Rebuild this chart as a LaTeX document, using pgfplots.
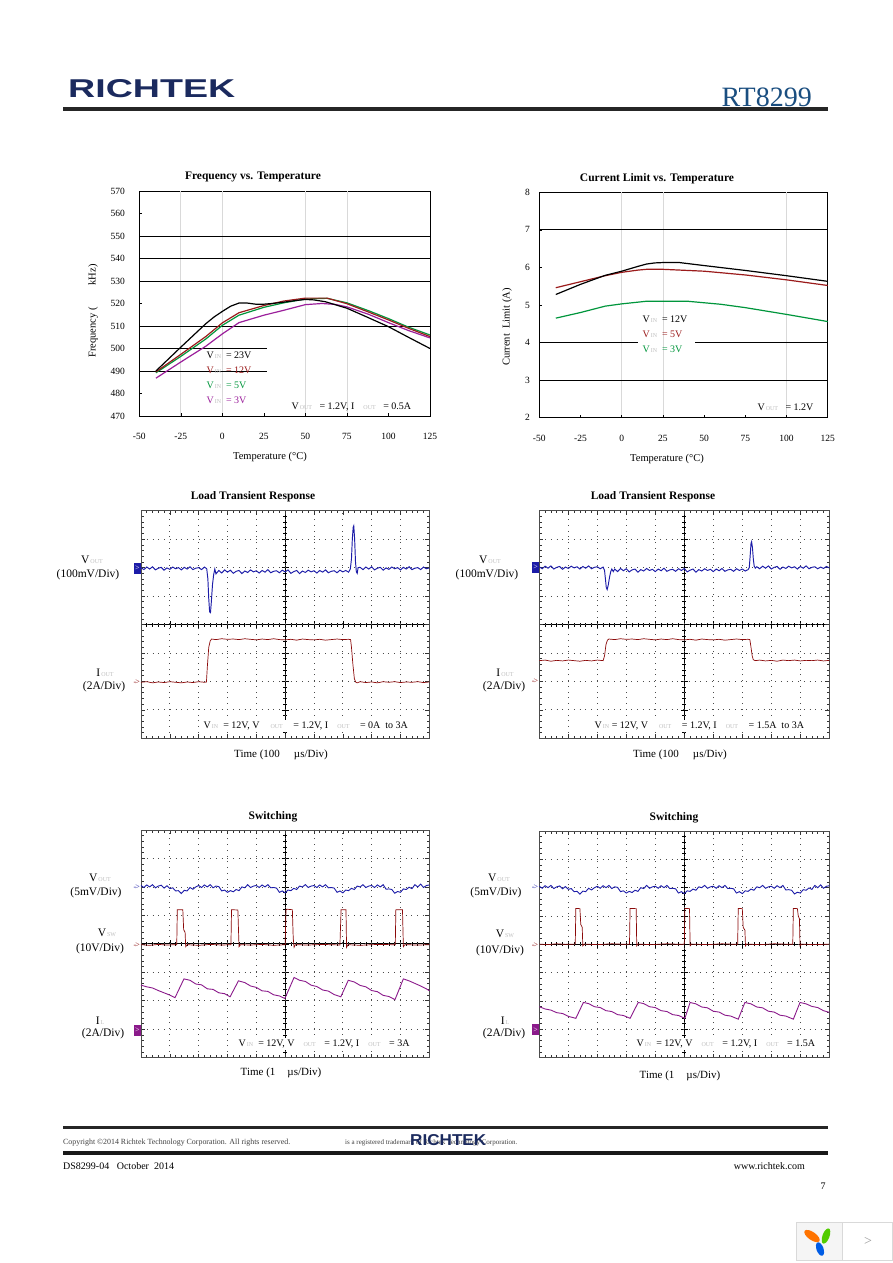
\documentclass[border=0pt]{standalone}
\usepackage{pgfplots}
\pgfplotsset{compat=1.18}
\usepackage{pgfplotstable}
\usepackage{graphicx}
\usepackage{fontspec}
\setmainfont{Liberation Serif}
\newfontfamily\logofont{Liberation Sans}
\definecolor{navy}{HTML}{1B2A5E}
\definecolor{rtblue}{HTML}{1A4E80}
\definecolor{cred}{HTML}{9B1B1B}
\definecolor{cgreen}{HTML}{00963C}
\definecolor{cpurple}{HTML}{9B1F9B}
\definecolor{sblue}{HTML}{1C1CA8}
\definecolor{sred}{HTML}{8B0A0A}
\definecolor{spurple}{HTML}{8B1A8B}
\newcommand{\fsz}[1]{\fontsize{#1}{#1}\selectfont}
\newcommand{\sub}[1]{{\fsz{6}\color{black!25}\,#1}}
\pgfplotsset{
 tempaxis/.style={scale only axis, anchor=south west, axis line style={black, line width=0.9pt},
   tick align=inside, tick pos=left, major tick length=3pt, tick style={black, line width=0.6pt},
   xmin=-50, xmax=125, xtick={-50,-25,...,125}, xticklabels={-50,-25,0,25,50,75,100,125},
   ticklabel style={font=\fsz{9.5}}, xticklabel style={yshift=-14pt},
   extra x tick labels={}, extra y tick labels={},
   extra x tick style={grid=major, major grid style={black!15, line width=0.8pt}},
   extra y tick style={grid=major, major grid style={black, line width=0.8pt}},
   clip=false},
 scopeframe/.style={scale only axis, anchor=south west, xmin=0, xmax=10, ymin=0, ymax=8,
   xtick={0,...,10}, ytick={0,...,8}, xticklabels={}, yticklabels={},
   minor x tick num=4, minor y tick num=4, tick align=inside, tick pos=both,
   major tick length=4pt, minor tick length=2.5pt, tick style={black!80, line width=0.6pt},
   grid=major, major grid style={black!70, line width=0.8pt, dash pattern=on 0.8pt off 4.95pt},
   axis line style={black!70, line width=0.9pt}, clip=false},
 scopecenter/.style={scale only axis, anchor=south west, xmin=-5, xmax=5, ymin=-4, ymax=4,
   axis lines=center, axis line style={-, black, line width=0.8pt},
   every inner x axis line/.append style={-}, every inner y axis line/.append style={-},
   xtick={-5,...,5}, ytick={-4,...,4}, minor x tick num=4, minor y tick num=4,
   tick align=center, major tick length=7pt, minor tick length=4pt,
   tick style={black, line width=0.6pt}, xticklabels={}, yticklabels={},
   hide obscured x ticks=false, hide obscured y ticks=false},
}
\pgfplotstableread{
t v
0 6.05
0.1 5.98
0.2 6.07
0.3 6.00
0.4 6.08
0.5 5.97
0.6 6.03
0.7 6.06
0.8 5.96
0.9 6.04
1.0 5.94
1.1 5.97
1.2 5.86
1.3 5.87
1.4 5.77
1.5 5.88
1.6 5.86
1.7 5.98
1.8 5.92
1.9 6.00
2.0 6.05
2.1 5.98
2.2 6.07
2.3 6.00
2.4 6.08
2.5 5.97
2.6 6.03
2.7 6.01
2.8 5.86
2.9 5.89
3.0 5.81
3.1 5.87
3.2 5.83
3.3 5.91
3.4 5.87
3.5 6.00
3.6 5.97
3.7 6.08
3.8 5.98
3.9 6.03
4.0 6.05
4.1 5.98
4.2 6.07
4.3 6.00
4.4 6.08
4.5 5.97
4.6 5.98
4.7 5.96
4.8 5.81
4.9 5.86
5.0 5.79
5.1 5.89
5.2 5.87
5.3 5.95
5.4 5.91
5.5 6.03
5.6 6.00
5.7 6.08
5.8 5.98
5.9 6.03
6.0 6.05
6.1 5.98
6.2 6.07
6.3 6.00
6.4 6.08
6.5 5.97
6.6 5.98
6.7 5.96
6.8 5.81
6.9 5.86
7.0 5.79
7.1 5.89
7.2 5.87
7.3 5.95
7.4 5.91
7.5 6.03
7.6 6.00
7.7 6.08
7.8 5.98
7.9 6.03
8.0 6.05
8.1 5.98
8.2 6.07
8.3 6.00
8.4 6.08
8.5 5.92
8.6 5.93
8.7 5.91
8.8 5.78
8.9 5.84
9.0 5.81
9.1 5.93
9.2 5.91
9.3 5.99
9.4 5.94
9.5 6.08
9.6 6.00
9.7 6.10
9.8 5.98
9.9 6.05
10.0 6.07
}\swvout
\begin{document}
\begin{tikzpicture}
\fill[white] (0pt,0pt) rectangle (892pt,-1263pt);
% ---------------- header
\node[anchor=north west, inner sep=0pt, text=navy] at (68pt,-79pt) {\resizebox{167pt}{18pt}{\logofont\bfseries RICHTEK}};
\node[anchor=base east, inner sep=0pt, text=rtblue] at (812pt,-106pt) {\fsz{28}RT8299};
\fill[black!85] (63pt,-107pt) rectangle (828pt,-110.5pt);
% ================= Chart 1: Frequency vs Temperature
\node[font=\fsz{11.5}\bfseries] at (253pt,-177pt) {Frequency vs. Temperature};
\node[font=\fsz{10.5}, rotate=90] at (93pt,-311pt) {Frequency (\hspace{22pt}kHz)};
\node[font=\fsz{10.5}] at (270pt,-457pt) {Temperature (\textdegree C)};
\begin{axis}[tempaxis, at={(139.3pt,-416pt)}, width=290.7pt, height=225pt,
  ymin=470, ymax=570, ytick={470,480,...,570},
  yticklabels={470,480,490,500,510,520,530,540,550,560,570}, yticklabel style={xshift=-11pt},
  extra y ticks={510,530,540,550}, extra x ticks={-25,0,50,75}]
\addplot[black, line width=0.8pt] coordinates {(-50,490)(26.6,490)};
\addplot[black, line width=0.8pt] coordinates {(-50,500)(26.6,500)};
\addplot[cpurple, line width=1.2pt] coordinates {(-40,486.8)(-25,494)(-10,501)(0,506.5)(10,511.5)(25,514.8)(37,517)(50,519.5)(60,520)(68,519.6)(75,518.5)(88,515.2)(100,511.5)(112,508)(125,504.7)};
\addplot[cgreen, line width=1.2pt] coordinates {(-40,489.2)(-25,496.5)(-10,504.2)(0,510.3)(10,514.8)(25,518.3)(37,520.3)(50,522)(63,522.3)(75,520.3)(88,516.8)(100,513.3)(112,509.5)(125,506)};
\addplot[cred, line width=1.2pt] coordinates {(-40,489.6)(-25,497.4)(-10,505.3)(0,511.4)(10,515.9)(25,519.1)(37,521.1)(50,522.4)(63,522.4)(75,519.9)(88,516.2)(100,512.7)(112,509)(125,505.3)};
\addplot[black, line width=1.2pt] coordinates {(-40,490)(-25,500.6)(-10,511)(-5,514)(0,516.5)(5,518.8)(10,520.2)(15,520.2)(20,519.7)(25,519.7)(30,520)(37,520.6)(45,521.4)(50,521.8)(55,521.6)(62,520.8)(70,519)(75,517.9)(87,514)(100,509.7)(112,505)(125,500)};
\end{axis}
\node[anchor=west, font=\fsz{10}] at (203pt,-355pt) {V\sub{IN}\ \ = 23V};
\node[anchor=west, font=\fsz{10}, text=cred] at (203pt,-370pt) {V\sub{IN}\ \ = 12V};
\node[anchor=west, font=\fsz{10}, text=cgreen] at (203pt,-385pt) {V\sub{IN}\ \ = 5V};
\node[anchor=west, font=\fsz{10}, text=cpurple] at (203pt,-400pt) {V\sub{IN}\ \ = 3V};
\node[anchor=west, font=\fsz{10}] at (288pt,-407pt) {V\sub{OUT}\ \ \ = 1.2V, I\hspace{8pt}\sub{OUT}\ \ \ = 0.5A};
% ================= Chart 2: Current Limit vs Temperature
\node[font=\fsz{11.5}\bfseries] at (657pt,-179pt) {Current Limit vs. Temperature};
\node[font=\fsz{10.5}, rotate=90] at (507pt,-327pt) {Current\ \ Limit (A)};
\node[font=\fsz{10.5}] at (667pt,-459pt) {Temperature (\textdegree C)};
\begin{axis}[tempaxis, at={(539.3pt,-417.7pt)}, width=288.4pt, height=225.4pt,
  ymin=2, ymax=8, ytick={2,...,8}, yticklabels={2,3,4,5,6,7,8}, yticklabel style={xshift=-6pt},
  extra y ticks={3,7}, extra x ticks={0,25,100}]
\addplot[black, line width=0.8pt] coordinates {(-50,4)(10,4)};
\addplot[black, line width=0.8pt] coordinates {(44.5,4)(125,4)};
\addplot[cgreen, line width=1.2pt] coordinates {(-40,4.65)(-25,4.8)(-10,4.97)(0,5.03)(15,5.1)(25,5.1)(40,5.1)(60,5.02)(75,4.93)(100,4.75)(125,4.56)};
\addplot[cred, line width=1.2pt] coordinates {(-40,5.46)(-25,5.62)(-10,5.78)(0,5.87)(10,5.93)(15,5.95)(25,5.95)(50,5.9)(75,5.8)(100,5.67)(125,5.52)};
\addplot[black, line width=1.2pt] coordinates {(-40,5.28)(-25,5.55)(-10,5.79)(0,5.9)(10,6.03)(15,6.09)(20,6.12)(25,6.13)(35,6.13)(50,6.05)(75,5.92)(100,5.78)(125,5.63)};
\end{axis}
\node[anchor=west, font=\fsz{10}] at (639pt,-319pt) {V\sub{IN}\ \ = 12V};
\node[anchor=west, font=\fsz{10}, text=cred] at (639pt,-334pt) {V\sub{IN}\ \ = 5V};
\node[anchor=west, font=\fsz{10}, text=cgreen] at (639pt,-349pt) {V\sub{IN}\ \ = 3V};
\node[anchor=west, font=\fsz{10}] at (754pt,-407pt) {V\sub{OUT}\ \ \ = 1.2V};
% ================= Chart 3: Load transient (0A to 3A)
\node[font=\fsz{11.5}\bfseries] at (253pt,-497pt) {Load Transient Response};
\begin{axis}[scopecenter, at={(141pt,-738.3pt)}, width=288.3pt, height=227.6pt]
\addplot[draw=none] coordinates {(0,0)};
\end{axis}
\begin{axis}[scopeframe, at={(141pt,-738.3pt)}, width=288.3pt, height=227.6pt]
\addplot[sblue, line width=0.95pt] coordinates {(0.0,6.00)(0.1,5.93)(0.2,6.02)(0.3,5.95)(0.4,6.03)(0.5,5.92)(0.6,5.98)(0.7,6.01)(0.8,5.91)(0.9,5.99)(1.0,5.94)(1.1,6.02)(1.2,5.96)(1.3,6.00)(1.4,5.92)(1.5,6.01)(1.6,5.95)(1.7,6.03)(1.8,5.93)(1.9,5.98)(2.0,6.00)(2.1,5.93)(2.2,6.02)(2.28,5.96)(2.32,5.6)(2.35,4.9)(2.38,4.45)(2.41,4.42)(2.44,4.8)(2.48,5.4)(2.52,5.75)(2.56,5.95)(2.6,5.78)(2.7,5.90)(2.8,5.81)(2.9,5.92)(3.0,5.84)(3.1,5.91)(3.2,5.80)(3.3,5.87)(3.4,5.90)(3.5,5.79)(3.6,5.88)(3.7,5.83)(3.8,5.92)(3.9,5.85)(4.0,5.89)(4.1,5.81)(4.2,5.90)(4.3,5.84)(4.4,5.93)(4.5,5.82)(4.6,5.87)(4.7,5.89)(4.8,5.82)(4.9,5.91)(5.0,5.85)(5.1,5.92)(5.2,5.80)(5.3,5.86)(5.4,5.90)(5.5,5.79)(5.6,5.88)(5.7,5.83)(5.8,5.91)(5.9,5.85)(6.0,5.89)(6.1,5.81)(6.2,5.90)(6.3,5.84)(6.4,5.92)(6.5,5.82)(6.6,5.87)(6.7,5.89)(6.8,5.82)(6.9,5.91)(7.0,5.85)(7.1,5.90)(7.2,5.84)(7.26,5.95)(7.30,6.3)(7.33,7.0)(7.36,7.42)(7.38,7.47)(7.41,7.0)(7.44,6.2)(7.47,5.85)(7.5,5.80)(7.53,6.0)(7.6,6.01)(7.7,5.93)(7.8,6.02)(7.9,5.95)(8.0,6.03)(8.1,5.92)(8.2,5.98)(8.3,6.01)(8.4,5.91)(8.5,5.99)(8.6,5.94)(8.7,6.02)(8.8,5.96)(8.9,6.00)(9.0,5.92)(9.1,6.01)(9.2,5.95)(9.3,6.03)(9.4,5.93)(9.5,5.98)(9.6,6.00)(9.7,5.93)(9.8,6.02)(9.9,5.96)(10.0,5.99)};
\addplot[sred, line width=0.7pt] coordinates {(0,1.97)(0.2,1.99)(0.4,1.95)(0.6,1.98)(0.8,1.96)(1.0,1.99)(1.2,1.97)(1.4,1.95)(1.6,1.98)(1.8,1.96)(2.0,1.99)(2.2,1.97)(2.27,1.98)(2.30,2.5)(2.35,3.2)(2.40,3.42)(2.45,3.49)(2.6,3.47)(2.8,3.50)(3.0,3.48)(3.2,3.49)(3.4,3.47)(3.6,3.50)(3.8,3.48)(4.0,3.46)(4.2,3.49)(4.4,3.47)(4.6,3.50)(4.8,3.47)(5.0,3.46)(5.2,3.48)(5.4,3.45)(5.6,3.49)(5.8,3.47)(6.0,3.46)(6.2,3.48)(6.4,3.45)(6.6,3.47)(6.8,3.49)(7.0,3.47)(7.2,3.48)(7.27,3.47)(7.30,3.2)(7.35,2.6)(7.40,2.1)(7.45,1.97)(7.5,1.95)(7.6,1.99)(7.8,1.96)(8.0,1.98)(8.2,1.95)(8.4,1.99)(8.6,1.97)(8.8,1.99)(9.0,1.96)(9.2,1.98)(9.4,1.97)(9.6,1.99)(9.8,1.96)(10,1.98)};
\node[anchor=east, fill=sblue, text=white, inner sep=0.5pt, minimum height=11pt, minimum width=7pt, font=\fsz{8}] at (axis cs:0,5.97) {>};
\node[anchor=east, text=sred, inner sep=1pt, font=\fsz{8}] at (axis cs:0,1.97) {-\kern-1pt>};
\end{axis}
\node[font=\fsz{11.5}] at (92pt,-560pt) {V\sub{OUT}};
\node[font=\fsz{11.5}] at (88pt,-575pt) {(100mV/Div)};
\node[font=\fsz{11.5}] at (105pt,-673pt) {I\sub{OUT}};
\node[font=\fsz{11.5}] at (104pt,-687pt) {(2A/Div)};
\node[anchor=west, fill=white, inner sep=1.5pt, font=\fsz{10}] at (202pt,-726pt) {V\sub{IN}\ \ = 12V, V\hspace{10pt}\sub{OUT}\hspace{8pt} = 1.2V, I\hspace{8pt}\sub{OUT}\hspace{8pt} = 0A\ \ to 3A};
\node[font=\fsz{11}] at (281pt,-755pt) {Time (100\hspace{14pt}\textmu s/Div)};
% ================= Chart 4: Load transient (1.5A to 3A)
\node[font=\fsz{11.5}\bfseries] at (653pt,-497pt) {Load Transient Response};
\begin{axis}[scopecenter, at={(539.3pt,-738.3pt)}, width=290pt, height=227.6pt]
\addplot[draw=none] coordinates {(0,0)};
\end{axis}
\begin{axis}[scopeframe, at={(539.3pt,-738.3pt)}, width=290pt, height=227.6pt]
\addplot[sblue, line width=0.95pt] coordinates {(0,6.03)(0.1,5.96)(0.2,6.05)(0.3,5.98)(0.4,6.06)(0.5,5.95)(0.6,6.01)(0.7,6.04)(0.8,5.94)(0.9,6.02)(1.0,5.97)(1.1,6.05)(1.2,5.99)(1.3,6.03)(1.4,5.95)(1.5,6.04)(1.6,5.98)(1.7,6.06)(1.8,5.96)(1.9,6.01)(2.0,6.03)(2.1,5.96)(2.2,6.02)(2.25,5.9)(2.28,5.6)(2.31,5.3)(2.34,5.23)(2.38,5.4)(2.42,5.65)(2.46,5.85)(2.5,5.95)(2.55,5.86)(2.6,5.95)(2.7,5.86)(2.8,5.97)(2.9,5.89)(3.0,5.96)(3.1,5.85)(3.2,5.92)(3.3,5.95)(3.4,5.84)(3.5,5.93)(3.6,5.88)(3.7,5.97)(3.8,5.90)(3.9,5.94)(4.0,5.86)(4.1,5.95)(4.2,5.89)(4.3,5.98)(4.4,5.87)(4.5,5.92)(4.6,5.94)(4.7,5.87)(4.8,5.96)(4.9,5.90)(5.0,5.97)(5.1,5.85)(5.2,5.91)(5.3,5.95)(5.4,5.84)(5.5,5.93)(5.6,5.88)(5.7,5.96)(5.8,5.90)(5.9,5.94)(6.0,5.86)(6.1,5.95)(6.2,5.89)(6.3,5.97)(6.4,5.87)(6.5,5.92)(6.6,5.94)(6.7,5.87)(6.8,5.96)(6.9,5.90)(7.0,5.95)(7.1,5.88)(7.2,5.93)(7.24,6.0)(7.27,6.4)(7.30,6.85)(7.32,6.91)(7.35,6.7)(7.38,6.3)(7.41,6.05)(7.45,5.98)(7.5,6.03)(7.6,5.96)(7.7,6.05)(7.8,5.98)(7.9,6.06)(8.0,5.95)(8.1,6.01)(8.2,6.04)(8.3,5.94)(8.4,6.02)(8.5,5.97)(8.6,6.05)(8.7,5.99)(8.8,6.03)(8.9,5.95)(9.0,6.04)(9.1,5.98)(9.2,6.06)(9.3,5.96)(9.4,6.01)(9.5,6.03)(9.6,5.96)(9.7,6.02)(9.8,5.97)(9.9,6.04)(10,5.99)};
\addplot[sred, line width=0.7pt] coordinates {(0,2.73)(0.2,2.75)(0.4,2.71)(0.6,2.74)(0.8,2.72)(1.0,2.75)(1.2,2.73)(1.4,2.71)(1.6,2.74)(1.8,2.72)(2.0,2.75)(2.2,2.73)(2.25,2.9)(2.3,3.3)(2.35,3.45)(2.4,3.49)(2.6,3.47)(2.8,3.50)(3.0,3.48)(3.2,3.49)(3.4,3.47)(3.6,3.50)(3.8,3.48)(4.0,3.46)(4.2,3.49)(4.4,3.47)(4.6,3.50)(4.8,3.47)(5.0,3.46)(5.2,3.48)(5.4,3.45)(5.6,3.49)(5.8,3.47)(6.0,3.46)(6.2,3.48)(6.4,3.45)(6.6,3.47)(6.8,3.49)(7.0,3.47)(7.2,3.48)(7.26,3.47)(7.30,3.2)(7.34,2.9)(7.38,2.76)(7.45,2.73)(7.6,2.75)(7.8,2.72)(8.0,2.74)(8.2,2.71)(8.4,2.75)(8.6,2.73)(8.8,2.75)(9.0,2.72)(9.2,2.74)(9.4,2.73)(9.6,2.75)(9.8,2.72)(10,2.74)};
\node[anchor=east, fill=sblue, text=white, inner sep=0.5pt, minimum height=11pt, minimum width=7pt, font=\fsz{8}] at (axis cs:0,6.0) {>};
\node[anchor=east, text=sred, inner sep=1pt, font=\fsz{8}] at (axis cs:0,1.99) {-\kern-1pt>};
\end{axis}
\node[font=\fsz{11.5}] at (490pt,-560pt) {V\sub{OUT}};
\node[font=\fsz{11.5}] at (487pt,-575pt) {(100mV/Div)};
\node[font=\fsz{11.5}] at (505pt,-673pt) {I\sub{OUT}};
\node[font=\fsz{11.5}] at (504pt,-687pt) {(2A/Div)};
\node[anchor=west, fill=white, inner sep=1.5pt, font=\fsz{10}] at (593pt,-726pt) {V\sub{IN}\ = 12V, V\hspace{10pt}\sub{OUT}\hspace{8pt} = 1.2V, I\hspace{8pt}\sub{OUT}\hspace{8pt} = 1.5A\ \ to 3A};
\node[font=\fsz{11}] at (680pt,-755pt) {Time (100\hspace{14pt}\textmu s/Div)};
% ================= Chart 5: Switching (3A)
\node[font=\fsz{11.5}\bfseries] at (273pt,-817pt) {Switching};
\begin{axis}[scopecenter, at={(141pt,-1057.7pt)}, width=288.3pt, height=227.7pt]
\addplot[draw=none] coordinates {(0,0)};
\end{axis}
\begin{axis}[scopeframe, at={(141pt,-1057.7pt)}, width=288.3pt, height=227.7pt]
\addplot[sblue, line width=0.9pt] table[x=t, y=v] {\swvout};
\addplot[sred, line width=0.7pt] coordinates {(0,3.97)(0.3,3.95)(0.6,3.98)(0.9,3.96)(1.2,3.97)(1.24,3.97)(1.26,5.2)(1.45,5.2)(1.48,4.5)(1.53,4.4)(1.55,3.9)(1.6,3.97)(2.0,3.95)(2.4,3.98)(2.8,3.96)(3.12,3.97)(3.14,5.2)(3.36,5.19)(3.40,3.9)(3.45,3.97)(3.8,3.96)(4.2,3.98)(4.6,3.95)(5.0,3.97)(5.03,5.22)(5.25,5.2)(5.28,4.2)(5.31,3.88)(5.35,3.97)(5.8,3.96)(6.3,3.98)(6.9,3.96)(6.94,5.2)(7.11,5.2)(7.13,3.88)(7.18,3.97)(7.6,3.95)(8.2,3.98)(8.82,3.97)(8.84,5.2)(9.07,5.2)(9.10,3.9)(9.15,3.97)(9.6,3.96)(10,3.97)};
\addplot[spurple, line width=0.9pt] coordinates {(0,2.55)(0.2,2.49)(0.4,2.45)(0.6,2.36)(0.8,2.28)(1.0,2.20)(1.18,2.11)(1.49,2.77)(1.7,2.72)(1.9,2.59)(2.1,2.56)(2.3,2.42)(2.5,2.40)(2.7,2.28)(2.9,2.25)(3.09,2.14)(3.38,2.70)(3.6,2.64)(3.8,2.52)(4.0,2.47)(4.2,2.35)(4.4,2.33)(4.6,2.21)(4.8,2.17)(4.99,2.08)(5.31,2.82)(5.5,2.72)(5.7,2.68)(5.9,2.55)(6.1,2.50)(6.3,2.38)(6.5,2.34)(6.7,2.22)(6.93,2.14)(7.19,2.72)(7.4,2.66)(7.6,2.54)(7.8,2.49)(8.0,2.36)(8.2,2.32)(8.4,2.19)(8.6,2.15)(8.81,2.04)(9.10,2.77)(9.3,2.70)(9.5,2.61)(9.7,2.52)(9.9,2.42)(10,2.35)};
\node[anchor=east, text=sblue, inner sep=1pt, font=\fsz{8}] at (axis cs:0,6.0) {-\kern-1pt>};
\node[anchor=east, text=sred, inner sep=1pt, font=\fsz{8}] at (axis cs:0,3.96) {-\kern-1pt>};
\node[anchor=east, fill=spurple, text=white, inner sep=0.5pt, minimum height=11pt, minimum width=7pt, font=\fsz{8}] at (axis cs:0,0.97) {>};
\end{axis}
\node[font=\fsz{11.5}] at (100pt,-878pt) {V\sub{OUT}};
\node[font=\fsz{11.5}] at (96pt,-893pt) {(5mV/Div)};
\node[font=\fsz{11.5}] at (107pt,-933pt) {V\sub{SW}};
\node[font=\fsz{11.5}] at (100pt,-949pt) {(10V/Div)};
\node[font=\fsz{11.5}] at (100pt,-1021pt) {I\sub{L}};
\node[font=\fsz{11.5}] at (103pt,-1034pt) {(2A/Div)};
\node[anchor=west, fill=white, inner sep=1.5pt, font=\fsz{10}] at (237pt,-1044pt) {V\sub{IN}\ \ = 12V, V\hspace{8pt}\sub{OUT}\hspace{6pt} = 1.2V, I\hspace{8pt}\sub{OUT}\hspace{6pt} = 3A};
\node[font=\fsz{11}] at (281pt,-1073pt) {Time (1\hspace{12pt}\textmu s/Div)};
% ================= Chart 6: Switching (1.5A)
\node[font=\fsz{11.5}\bfseries] at (674pt,-818pt) {Switching};
\begin{axis}[scopecenter, at={(539.3pt,-1057.7pt)}, width=290pt, height=226.7pt]
\addplot[draw=none] coordinates {(0,0)};
\end{axis}
\begin{axis}[scopeframe, at={(539.3pt,-1057.7pt)}, width=290pt, height=226.7pt]
\addplot[sblue, line width=0.9pt] table[x=t, y=v] {\swvout};
\addplot[sred, line width=0.7pt] coordinates {(0,4.01)(0.3,3.99)(0.6,4.02)(0.9,4.00)(1.24,4.01)(1.26,5.27)(1.4,5.26)(1.43,4.7)(1.48,4.6)(1.5,3.95)(1.55,4.01)(2.0,3.99)(2.5,4.02)(3.0,4.00)(3.11,4.01)(3.13,5.27)(3.34,5.26)(3.36,3.95)(3.4,4.01)(3.9,3.99)(4.4,4.02)(4.9,4.00)(5.0,4.01)(5.02,5.27)(5.18,5.26)(5.2,3.95)(5.25,4.01)(5.8,3.99)(6.3,4.02)(6.84,4.00)(6.86,5.27)(7.0,5.26)(7.03,4.6)(7.09,4.5)(7.11,3.95)(7.15,4.01)(7.6,3.99)(8.1,4.02)(8.74,4.00)(8.76,5.27)(8.9,5.26)(8.93,5.0)(8.97,4.9)(8.99,3.95)(9.05,4.01)(9.5,3.99)(10,4.01)};
\addplot[spurple, line width=0.9pt] coordinates {(0,1.80)(0.2,1.72)(0.4,1.68)(0.6,1.59)(0.8,1.56)(1.0,1.46)(1.26,1.39)(1.52,1.95)(1.7,1.91)(1.9,1.80)(2.1,1.77)(2.3,1.66)(2.5,1.63)(2.7,1.52)(2.9,1.49)(3.13,1.39)(3.41,1.95)(3.6,1.91)(3.8,1.80)(4.0,1.77)(4.2,1.66)(4.4,1.63)(4.6,1.52)(4.8,1.49)(5.02,1.39)(5.2,1.95)(5.4,1.90)(5.6,1.79)(5.8,1.76)(6.0,1.64)(6.2,1.61)(6.4,1.50)(6.6,1.47)(6.86,1.36)(7.09,1.95)(7.3,1.90)(7.5,1.79)(7.7,1.76)(7.9,1.64)(8.1,1.61)(8.3,1.50)(8.5,1.47)(8.76,1.36)(8.99,1.95)(9.2,1.90)(9.4,1.81)(9.6,1.77)(9.8,1.66)(10,1.60)};
\node[anchor=east, text=sblue, inner sep=1pt, font=\fsz{8}] at (axis cs:0,6.0) {-\kern-1pt>};
\node[anchor=east, text=sred, inner sep=1pt, font=\fsz{8}] at (axis cs:0,3.97) {-\kern-1pt>};
\node[anchor=east, fill=spurple, text=white, inner sep=0.5pt, minimum height=11pt, minimum width=7pt, font=\fsz{8}] at (axis cs:0,0.98) {>};
\end{axis}
\node[font=\fsz{11.5}] at (499pt,-878pt) {V\sub{OUT}};
\node[font=\fsz{11.5}] at (496pt,-893pt) {(5mV/Div)};
\node[font=\fsz{11.5}] at (505pt,-934pt) {V\sub{SW}};
\node[font=\fsz{11.5}] at (500pt,-951pt) {(10V/Div)};
\node[font=\fsz{11.5}] at (505pt,-1021pt) {I\sub{L}};
\node[font=\fsz{11.5}] at (504pt,-1034pt) {(2A/Div)};
\node[anchor=west, fill=white, inner sep=1.5pt, font=\fsz{10}] at (635pt,-1044pt) {V\sub{IN}\ \ = 12V, V\hspace{8pt}\sub{OUT}\hspace{6pt} = 1.2V, I\hspace{8pt}\sub{OUT}\hspace{6pt} = 1.5A};
\node[font=\fsz{11}] at (680pt,-1076pt) {Time (1\hspace{12pt}\textmu s/Div)};
% ---------------- footer
\fill[black!85] (63pt,-1126pt) rectangle (828pt,-1128.5pt);
\node[anchor=west, inner sep=0pt, font=\fsz{7.9}, text=black!75] at (63pt,-1143pt) {Copyright \textcopyright 2014 Richtek Technology Corporation. All rights reserved.};
\node[anchor=west, inner sep=0pt, font=\fsz{7}, text=black!75] at (345pt,-1143pt) {is a registered trademark of Richtek Technology Corporation.};
\node[anchor=north west, inner sep=0pt, text=navy] at (410pt,-1134pt) {\resizebox{76pt}{11pt}{\logofont\bfseries RICHTEK}};
\fill[black!90] (63pt,-1151pt) rectangle (828pt,-1154.5pt);
\node[anchor=west, inner sep=0pt, font=\fsz{10}] at (63pt,-1166pt) {DS8299-04\ \ \ October\ \ 2014};
\node[anchor=east, inner sep=0pt, font=\fsz{10}] at (805pt,-1166pt) {www.richtek.com};
\node[anchor=center, inner sep=0pt, font=\fsz{10}] at (823pt,-1186pt) {7};
% ---------------- corner widget
\fill[black!4] (796pt,-1222pt) rectangle (842pt,-1260pt);
\draw[black!15, line width=0.8pt] (796pt,-1222pt) rectangle (892pt,-1260pt);
\draw[black!15, line width=0.8pt] (842pt,-1222pt) -- (842pt,-1260pt);
\fill[orange!90!red, rotate around={-35:(812pt,-1236pt)}] (812pt,-1236pt) ellipse (9pt and 4pt);
\fill[green!60!yellow!80!black, rotate around={70:(826pt,-1236pt)}] (826pt,-1236pt) ellipse (8pt and 3.5pt);
\fill[blue!60!cyan!90!black, rotate around={-70:(820pt,-1249pt)}] (820pt,-1249pt) ellipse (7pt and 3.5pt);
\node[text=black!40, font=\fsz{14}] at (868pt,-1241pt) {>};
\end{tikzpicture}
\end{document}
